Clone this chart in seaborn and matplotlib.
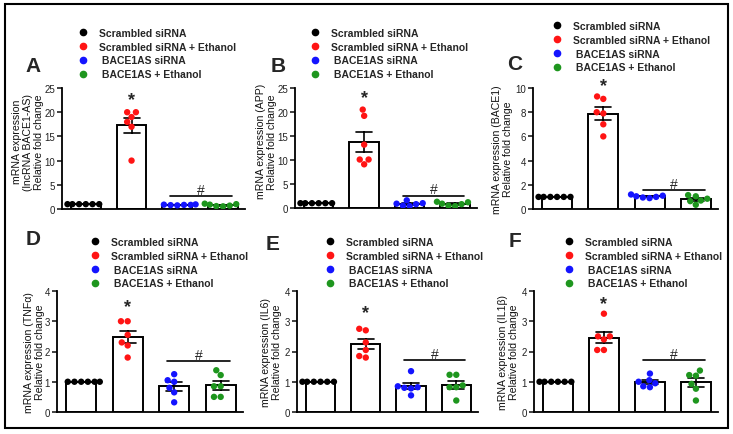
import warnings

import matplotlib

matplotlib.use("Agg")
import matplotlib.pyplot as plt
import numpy as np
import pandas as pd
import seaborn as sns
from matplotlib.lines import Line2D
from matplotlib.patches import Rectangle

warnings.filterwarnings("ignore")

sns.set_theme(style="ticks")
plt.rcParams["font.family"] = ["Liberation Sans", "DejaVu Sans"]

W, H = 733, 435

groups = ["Scrambled siRNA", "Scrambled siRNA + Ethanol", " BACE1AS siRNA", " BACE1AS + Ethanol"]
colors = ["#000000", "#ff1414", "#1414ff", "#1e961e"]

# A - lncRNA BACE1-AS
lnc_scr = [1.0, 1.0, 1.0, 1.0, 1.0, 1.0]
lnc_scr_eth = [20.0, 19.0, 20.0, 17.0, 18.0, 10.0]
lnc_bace = [0.95, 0.9, 0.85, 0.85, 0.8, 0.75]
lnc_bace_eth = [1.1, 1.0, 0.9, 0.7, 0.6, 0.55]

# B - APP
app_scr = [1.0, 1.0, 1.0, 1.0, 1.0, 1.0]
app_scr_eth = [20.5, 19.2, 13.2, 10.1, 10.1, 9.1]
app_bace = [1.6, 1.0, 0.9, 0.8, 0.5, 0.4]
app_bace_eth = [1.3, 1.2, 0.9, 0.8, 0.5, 0.4]

# C - BACE1
bace1_scr = [1.0, 1.0, 1.0, 1.0, 1.0, 1.0]
bace1_scr_eth = [9.3, 9.1, 8.0, 7.9, 7.0, 6.0]
bace1_bace = [1.2, 1.1, 1.05, 1.0, 0.95, 0.9]
bace1_bace_eth = [1.15, 1.05, 0.85, 0.7, 0.65, 0.35]

# D - TNFa
tnf_scr = [1.0, 1.0, 1.0, 1.0, 1.0, 1.0]
tnf_scr_eth = [3.0, 3.0, 2.55, 2.3, 2.2, 1.8]
tnf_bace = [1.25, 1.05, 1.0, 0.8, 0.65, 0.32]
tnf_bace_eth = [1.38, 1.22, 0.85, 0.85, 0.5, 0.5]

# E - IL6
il6_scr = [1.0, 1.0, 1.0, 1.0, 1.0, 1.0]
il6_scr_eth = [2.75, 2.7, 2.3, 2.05, 1.85, 1.8]
il6_bace = [1.35, 0.85, 0.82, 0.8, 0.78, 0.55]
il6_bace_eth = [1.23, 1.23, 0.88, 0.82, 0.82, 0.38]

# F - IL1b
il1b_scr = [1.0, 1.0, 1.0, 1.0, 1.0, 1.0]
il1b_scr_eth = [3.25, 2.5, 2.5, 2.4, 2.05, 2.05]
il1b_bace = [1.27, 1.05, 1.0, 0.95, 0.85, 0.82]
il1b_bace_eth = [1.37, 1.22, 1.2, 0.93, 0.77, 0.38]

panels = [
    dict(letter="A", ylabel="mRNA expression\n(lncRNA BACE1-AS)\nRelative fold change",
         data=[lnc_scr, lnc_scr_eth, lnc_bace, lnc_bace_eth], ymax=25, yticks=[0, 5, 10, 15, 20, 25],
         box=(62, 89, 245, 210), letter_xy=(33, 67), legend_xy=(78, 29), label_xy=(-18, 0.56),
         star_y=22.7, line_y=2.7, hash_y=4.0),
    dict(letter="B", ylabel="mRNA expression (APP)\nRelative fold change",
         data=[app_scr, app_scr_eth, app_bace, app_bace_eth], ymax=25, yticks=[0, 5, 10, 15, 20, 25],
         box=(295, 89, 477, 209), letter_xy=(278, 67), legend_xy=(310, 29), label_xy=(-18, 0.56),
         star_y=23.0, line_y=2.5, hash_y=4.0),
    dict(letter="C", ylabel="mRNA expression (BACE1)\nRelative fold change",
         data=[bace1_scr, bace1_scr_eth, bace1_bace, bace1_bace_eth], ymax=10, yticks=[0, 2, 4, 6, 8, 10],
         box=(533, 89, 718, 210), letter_xy=(515, 65), legend_xy=(552, 22), label_xy=(-20, 0.5),
         star_y=10.2, line_y=1.6, hash_y=2.1),
    dict(letter="D", ylabel="mRNA expression (TNF\u03b1)\nRelative fold change",
         data=[tnf_scr, tnf_scr_eth, tnf_bace, tnf_bace_eth], ymax=4, yticks=[0, 1, 2, 3, 4],
         box=(57, 292, 243, 413), letter_xy=(33, 240), legend_xy=(90, 238), label_xy=(-12, 0.5),
         star_y=3.47, line_y=1.69, hash_y=1.9),
    dict(letter="E", ylabel="mRNA expression (IL6)\nRelative fold change",
         data=[il6_scr, il6_scr_eth, il6_bace, il6_bace_eth], ymax=4, yticks=[0, 1, 2, 3, 4],
         box=(297, 292, 478, 413), letter_xy=(273, 244), legend_xy=(325, 238), label_xy=(-15, 0.5),
         star_y=3.27, line_y=1.72, hash_y=1.92),
    dict(letter="F", ylabel="mRNA expression (IL1\u03b2)\nRelative fold change",
         data=[il1b_scr, il1b_scr_eth, il1b_bace, il1b_bace_eth], ymax=4, yticks=[0, 1, 2, 3, 4],
         box=(534, 292, 718, 413), letter_xy=(515, 242), legend_xy=(564, 238), label_xy=(-15, 0.5),
         star_y=3.57, line_y=1.72, hash_y=1.92),
]

fig = plt.figure(figsize=(W / 100, H / 100), dpi=100)

for p in panels:
    l, t, r, b = p["box"]
    ax = fig.add_axes([l / W, 1 - b / H, (r - l) / W, (b - t) / H])
    df = pd.DataFrame({
        "group": np.repeat(groups, [len(v) for v in p["data"]]),
        "value": np.concatenate(p["data"]),
    })
    sns.barplot(data=df, x="group", y="value", order=groups, errorbar="se", width=0.65,
                color="white", edgecolor="black", linewidth=1.4, capsize=0.35,
                err_kws={"color": "black", "linewidth": 1.2}, ax=ax)
    sns.swarmplot(data=df, x="group", y="value", order=groups, hue="group", hue_order=groups,
                  palette=colors, size=4.6, linewidth=0, legend=False, ax=ax)

    ax.set_xlim(-0.52, 3.48)
    ax.set_ylim(0, p["ymax"])
    ax.set_yticks(p["yticks"])
    ax.set_xticks([])
    ax.set_xlabel("")
    ax.set_ylabel(p["ylabel"], fontsize=7.6, linespacing=1.1, color="#111111")
    ax.yaxis.set_label_coords(p["label_xy"][0] / (r - l), p["label_xy"][1])
    ax.tick_params(axis="y", labelsize=7, length=3.5, width=1.2, pad=1.5, colors="#222222")
    sns.despine(ax=ax)
    for s in ["left", "bottom"]:
        ax.spines[s].set_linewidth(1.3)
        ax.spines[s].set_color("black")

    ax.text(1, p["star_y"], "*", ha="center", va="center", fontsize=13, fontweight="bold")
    ax.plot([1.85, 3.2], [p["line_y"], p["line_y"]], color="black", lw=1.2)
    ax.text(2.52, p["hash_y"], "#", ha="center", va="center", fontsize=10)

    fig.text(p["letter_xy"][0] / W, 1 - p["letter_xy"][1] / H, p["letter"], ha="center", va="center",
             fontsize=15, fontweight="bold")

    handles = [Line2D([], [], marker="o", ls="", color=c, markersize=4.5) for c in colors]
    ax.legend(handles, groups, loc="upper left",
              bbox_to_anchor=(p["legend_xy"][0] / W, 1 - p["legend_xy"][1] / H),
              bbox_transform=fig.transFigure, frameon=False, borderpad=0, borderaxespad=0,
              handlelength=1.0, handletextpad=1.0, labelspacing=0.36,
              prop={"size": 7.5, "weight": "bold"})

fig.patches.append(Rectangle((5 / W, 1 - 429 / H), 723 / W, 424 / H, transform=fig.transFigure,
                             fill=False, edgecolor="black", linewidth=1.5))

fig.savefig("out.png", dpi=100)
